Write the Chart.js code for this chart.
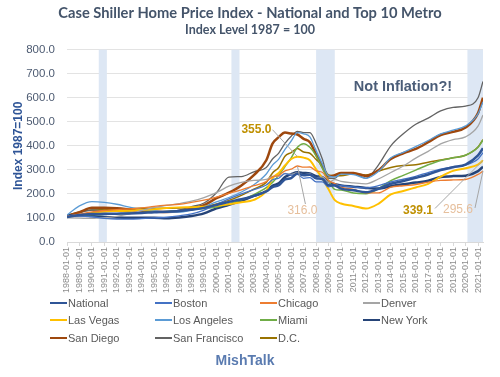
<!DOCTYPE html>
<html>
<head>
<meta charset="utf-8">
<script src="https://cdn.jsdelivr.net/npm/chart.js@4.4.1/dist/chart.umd.min.js"></script>
<style>
  html, body { margin: 0; padding: 0; background: #fff; }
  #wrap { position: relative; width: 500px; height: 377px; overflow: hidden; }
  #chart { position: absolute; left: 0; top: 0; }
  #legend {
    position: absolute; left: 50px; top: 294px;
    display: grid; grid-template-columns: 105px 105px 103px 100px;
    grid-auto-rows: 17.5px;
    font: 11px "Liberation Sans", Arial, sans-serif; color: #595959;
  }
  #legend div { display: flex; align-items: center; white-space: nowrap; }
  #legend span.sw { display: inline-block; width: 17px; height: 2px; margin-right: 1px; }
  #credit {
    position: absolute; left: 0; width: 490px; top: 352px; text-align: center;
    font: bold 14px "Liberation Sans", Arial, sans-serif; color: #5a7bb0;
  }
</style>
</head>
<body>
<div id="wrap">
  <canvas id="chart" width="500" height="300"></canvas>
  <div id="legend"></div>
  <div id="credit">MishTalk</div>
</div>
<script>
// datums (decimal years), jaarlijks met halfjaar rond de piek 2004-2009
var dates = [1988, 1989, 1990, 1991, 1992, 1993, 1994, 1995, 1996, 1997, 1998, 1999, 2000, 2001, 2002, 2003,
  2004, 2004.5, 2005, 2005.5, 2006, 2006.5, 2007, 2007.5, 2008, 2008.5, 2009, 2009.5,
  2010, 2011, 2012, 2013, 2014, 2015, 2016, 2017, 2018, 2019, 2020, 2021, 2021.4]

var xTickYears = [1988, 1989, 1990, 1991, 1992, 1993, 1994, 1995, 1996, 1997, 1998, 1999, 2000, 2001, 2002, 2003,
  2004, 2005, 2006, 2007, 2008, 2009, 2010, 2011, 2012, 2013, 2014, 2015, 2016, 2017, 2018, 2019, 2020, 2021]
var xTickLabels = ['1988-01-01', '1989-01-01', '1990-01-01', '1991-01-01', '1992-01-01', '1993-01-01', '1994-01-01',
  '1995-01-01', '1996-01-01', '1997-01-01', '1998-01-01', '1999-01-01', '2000-01-01', '2001-01-01', '2002-01-01',
  '2003-01-01', '2004-01-01', '2005-01-01', '2006-01-01', '2007-01-01', '2008-01-01', '2009-01-01', '2010-01-01',
  '2011-01-01', '2012-01-01', '2013-01-01', '2014-01-01', '2015-01-01', '2016-01-01', '2017-01-01', '2018-01-01',
  '2019-01-01', '2020-01-01', '2021-01-01']

var yTicks = [0, 100, 200, 300, 400, 500, 600, 700, 800]

// recessies (start, eind)
var recessionStart = [1990.55, 2001.2, 2008.0, 2020.15]
var recessionEnd = [1991.2, 2001.85, 2009.5, 2021.4]

var national = [104, 112, 116, 117, 118, 119, 121, 124, 126, 129, 134, 142, 154, 167, 178, 192,
  210, 228, 236, 260, 266, 285, 278, 280, 265, 262, 236, 235,
  222, 215, 207, 221, 242, 254, 267, 281, 299, 311, 322, 360, 390]
var boston = [106, 108, 105, 98, 95, 95, 97, 100, 103, 109, 117, 133, 156, 179, 200, 218,
  237, 259, 265, 284, 278, 281, 265, 268, 250, 250, 229, 237,
  234, 229, 225, 234, 250, 261, 273, 289, 303, 312, 320, 345, 372]
var chicago = [107, 116, 125, 131, 135, 138, 142, 148, 153, 157, 165, 174, 187, 202, 217, 234,
  251, 271, 277, 296, 303, 316, 311, 312, 296, 290, 256, 243,
  228, 219, 204, 204, 228, 234, 239, 249, 256, 258, 260, 281, 295.6]
var denver = [100, 99, 98, 101, 107, 117, 131, 144, 152, 160, 170, 185, 205, 232, 248, 256,
  260, 273, 273, 285, 281, 288, 279, 283, 267, 271, 248, 260,
  252, 246, 242, 262, 289, 316, 349, 377, 408, 426, 437, 482, 528]
var lasVegas = [104, 112, 121, 127, 129, 130, 133, 136, 141, 144, 145, 147, 151, 157, 165, 175,
  212, 265, 287, 318, 345, 355, 351, 340, 302, 265, 219, 174,
  160, 150, 139, 159, 198, 212, 227, 242, 272, 296, 307, 322, 339.1]
var losAngeles = [112, 150, 168, 165, 157, 145, 135, 130, 124, 124, 133, 147, 167, 185, 208, 238,
  283, 320, 345, 385, 420, 455, 450, 437, 380, 325, 275, 270,
  282, 280, 265, 293, 350, 373, 397, 422, 450, 465, 483, 533, 583]
var miami = [105, 110, 114, 115, 117, 120, 123, 124, 127, 130, 134, 139, 146, 158, 175, 197,
  226, 248, 277, 314, 350, 394, 409, 394, 358, 307, 255, 219,
  216, 204, 201, 222, 255, 277, 299, 321, 339, 350, 361, 394, 424]
var newYork = [111, 111, 108, 104, 102, 101, 101, 101, 99, 102, 108, 119, 140, 155, 172, 192,
  212, 234, 244, 270, 282, 290, 287, 285, 274, 270, 250, 240,
  235, 230, 225, 222, 232, 240, 247, 255, 270, 274, 276, 295, 313]
var sanDiego = [109, 124, 142, 142, 140, 135, 129, 127, 125, 129, 138, 153, 182, 205, 235, 278,
  340, 409, 436, 455, 451, 447, 429, 415, 364, 313, 273, 278,
  287, 287, 275, 298, 345, 369, 387, 415, 445, 458, 476, 536, 600]
var sanFrancisco = [105, 121, 133, 131, 129, 125, 123, 123, 125, 133, 147, 162, 205, 270, 272, 292,
  310, 345, 370, 410, 440, 460, 455, 455, 410, 345, 265, 265,
  285, 285, 265, 320, 400, 450, 490, 515, 545, 560, 565, 600, 668]
var dc = [110, 125, 133, 134, 136, 138, 140, 140, 140, 141, 143, 147, 158, 173, 194, 220,
  248, 287, 310, 357, 372, 389, 374, 369, 343, 318, 279, 276,
  276, 284, 279, 295, 310, 318, 321, 332, 341, 350, 361, 395, 426]

var seriesNames = ['National', 'Boston', 'Chicago', 'Denver', 'Las Vegas', 'Los Angeles', 'Miami', 'New York',
  'San Diego', 'San Francisco', 'D.C.']
var seriesData = [national, boston, chicago, denver, lasVegas, losAngeles, miami, newYork, sanDiego, sanFrancisco, dc]
var seriesColors = ['#2f5597', '#4472c4', '#ed7d31', '#a5a5a5', '#ffc000', '#5b9bd5', '#70ad47', '#264478',
  '#9e480e', '#636363', '#997300']
var seriesWidths = [2.5, 1.3, 1.3, 1.3, 2, 1.3, 1.5, 2.5, 2.5, 1.3, 1.5]

var peakIdx = dates.indexOf(2006.5)
var lastIdx = dates.length - 1

var datasets = seriesNames.map((name, i) => {
  return {
    label: name,
    data: seriesData[i].map((v, j) => ({ x: dates[j], y: v })),
    borderColor: seriesColors[i],
    backgroundColor: seriesColors[i],
    borderWidth: seriesWidths[i],
    pointRadius: 0,
    cubicInterpolationMode: 'monotone',
    fill: false
  }
})

// recessie-balken achter de lijnen
var recessionPlugin = {
  id: 'recessions',
  beforeDatasetsDraw(chart) {
    var ctx = chart.ctx, a = chart.chartArea, xs = chart.scales.x
    ctx.save()
    ctx.fillStyle = '#dde7f4'
    recessionStart.forEach((s, i) => {
      var x1 = xs.getPixelForValue(s), x2 = xs.getPixelForValue(recessionEnd[i])
      ctx.fillRect(x1, a.top, x2 - x1, a.bottom - a.top)
    })
    ctx.restore()
  }
}

// labels met aanwijslijntjes
var notesPlugin = {
  id: 'notes',
  afterDatasetsDraw(chart) {
    var ctx = chart.ctx, xs = chart.scales.x, ys = chart.scales.y, a = chart.chartArea
    var notes = [
      { v: lasVegas[peakIdx], x: dates[peakIdx], dx: -41, dy: -27, bold: true, color: '#bf9000', lx: 16 },
      { v: chicago[peakIdx], x: dates[peakIdx], dx: 5, dy: 45, bold: false, color: '#e6bf9c', lx: 3, ly: -7 },
      { v: lasVegas[lastIdx], x: dates[lastIdx], dx: -65, dy: 50, bold: true, color: '#bf9000', lx: 17, ly: -2 },
      { v: chicago[lastIdx], x: dates[lastIdx], dx: -25, dy: 39, bold: false, color: '#e6bf9c', lx: 17, ly: -2 }
    ]
    ctx.save()
    notes.forEach(n => {
      var px = xs.getPixelForValue(n.x), py = ys.getPixelForValue(n.v)
      var tx = px + n.dx, ty = py + n.dy
      ctx.strokeStyle = '#a6a6a6'
      ctx.lineWidth = 1
      ctx.beginPath()
      ctx.moveTo(tx + n.lx, ty + (n.ly || 0))
      ctx.lineTo(px, py)
      ctx.stroke()
      ctx.font = (n.bold ? 'bold ' : '') + '12px "Liberation Sans", Arial, sans-serif'
      ctx.fillStyle = n.color
      ctx.textAlign = 'center'
      ctx.textBaseline = 'middle'
      ctx.fillText(n.v.toFixed(1), tx, ty)
    })
    ctx.font = 'bold 14.5px "Liberation Sans", Arial, sans-serif'
    ctx.fillStyle = '#4b5d78'
    ctx.textAlign = 'center'
    ctx.fillText('Not Inflation?!', a.right - 80, a.top + 37)
    ctx.restore()
  }
}

var chart = new Chart(document.getElementById('chart'), {
  type: 'line',
  data: { datasets: datasets },
  plugins: [recessionPlugin, notesPlugin],
  options: {
    responsive: false,
    animation: false,
    layout: { padding: 0 },
    plugins: {
      legend: { display: false },
      tooltip: { enabled: false },
      title: {
        display: true,
        text: 'Case Shiller Home Price Index - National and Top 10 Metro',
        color: '#44546a',
        font: { family: 'Lato, "Liberation Sans", sans-serif', size: 14.7, weight: 'bold', lineHeight: 1.2 },
        padding: { top: 4, bottom: 0 }
      },
      subtitle: {
        display: true,
        text: 'Index Level 1987 = 100',
        color: '#44546a',
        font: { family: 'Lato, "Liberation Sans", sans-serif', size: 12.5, weight: 'bold', lineHeight: 1.2 },
        padding: { top: 1, bottom: 12 }
      }
    },
    scales: {
      x: {
        type: 'linear',
        min: dates[0],
        max: dates[lastIdx],
        afterBuildTicks: s => { s.ticks = xTickYears.map(v => ({ value: v })) },
        afterFit: s => { s.height = 58 },
        grid: { drawOnChartArea: false, drawTicks: true, tickLength: 4, color: '#d9d9d9' },
        border: { color: '#d9d9d9' },
        ticks: {
          autoSkip: false,
          maxRotation: 90,
          minRotation: 90,
          padding: 1,
          color: '#8c8c8c',
          font: { family: '"Liberation Sans", Arial, sans-serif', size: 9 },
          callback: (v) => xTickLabels[xTickYears.indexOf(v)]
        }
      },
      y: {
        min: 0,
        max: 800,
        afterBuildTicks: s => { s.ticks = yTicks.map(v => ({ value: v })) },
        afterFit: s => { s.width = 67 },
        grid: { color: '#e3e3e3', drawTicks: false },
        border: { display: false },
        ticks: {
          padding: 12,
          color: '#4d5b72',
          font: { family: '"Liberation Sans", Arial, sans-serif', size: 11.5 },
          callback: v => v.toFixed(1)
        },
        title: {
          display: true,
          text: 'Index 1987=100',
          color: '#2f5597',
          font: { family: '"Liberation Sans", Arial, sans-serif', size: 12, weight: 'bold', lineHeight: 1.2 },
          padding: { top: 11, bottom: 0 }
        }
      },
      // lege as rechts: houdt de plot van de rand, titel blijft gecentreerd
      yRight: {
        position: 'right',
        min: 0,
        max: 800,
        afterFit: s => { s.width = 17 },
        grid: { drawOnChartArea: false, drawTicks: false },
        border: { display: false },
        ticks: { display: false }
      }
    }
  }
})

// legenda in 4 kolommen, zoals in Excel
var legendBox = document.getElementById('legend')
chart.data.datasets.forEach(ds => {
  var item = document.createElement('div')
  item.innerHTML = '<span class="sw" style="background:' + ds.borderColor + '"></span>' + ds.label
  legendBox.appendChild(item)
})
</script>
</body>
</html>
